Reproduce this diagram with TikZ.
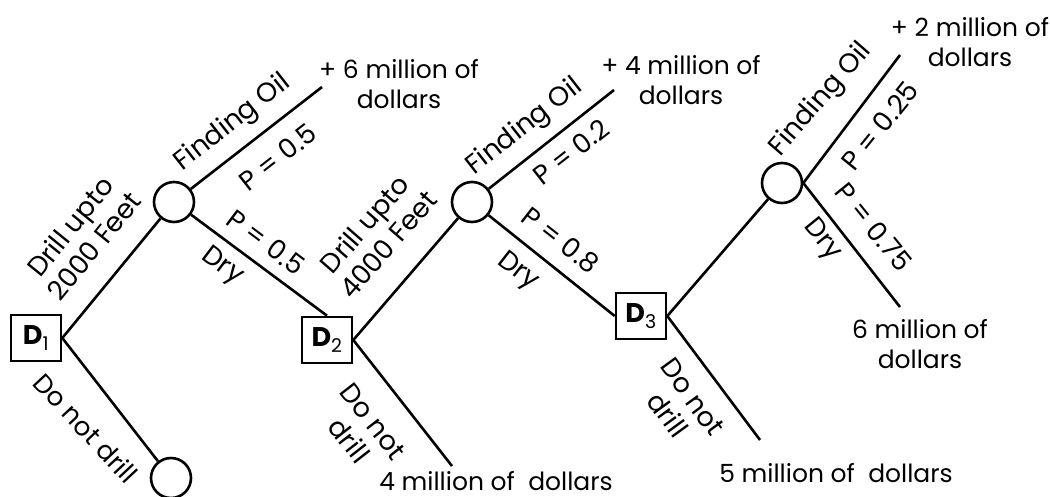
\documentclass[tikz,border=0pt]{standalone}
\usepackage{fontspec}
\setmainfont{Poppins}
\begin{document}
\begin{tikzpicture}[x=1pt,y=-1pt,
  every node/.style={font=\fontsize{25}{30}\selectfont},
  chance/.style={draw,circle,line width=2.6pt,minimum size=40pt,inner sep=0pt},
  decision/.style={draw,rectangle,line width=2.6pt,minimum width=50pt,minimum height=46pt,inner sep=0pt,font=\fontsize{27}{30}\selectfont},
  branch/.style={line width=2.6pt},
  lbl/.style={inner sep=0pt,align=center,font=\fontsize{27}{31}\selectfont},
  outcome/.style={inner sep=0pt,align=center}]
\useasboundingbox (0,0) rectangle (1050,496);
% decision and chance nodes
\node[decision] (d1) at (36,338) {\textbf{D}\textsubscript{1}};
\node[chance] (c1) at (174,202) {};
\node[chance] (c0) at (171,478) {};
\node[decision] (d2) at (327,340) {\textbf{D}\textsubscript{2}};
\node[chance] (c2) at (472,202) {};
\node[decision] (d3) at (641,316) {\textbf{D}\textsubscript{3}};
\node[chance] (c3) at (782,183) {};
% free ends
\coordinate (e1) at (322,87);
\coordinate (e2) at (614,90);
\coordinate (e3) at (452,466);
\coordinate (e4) at (900,55);
\coordinate (e5) at (900,307);
\coordinate (e6) at (760,440);
% connectors
\draw[branch] (d1.east) -- (c1);
\draw[branch] (d1.east) -- (c0);
\draw[branch] (c1) -- (e1);
\draw[branch] (c1) -- (d2.north);
\draw[branch] (d2.east) -- (c2);
\draw[branch] (d2.east) -- (e3);
\draw[branch] (c2) -- (e2);
\draw[branch] (c2) -- (d3.west);
\draw[branch] (d3.east) -- (c3);
\draw[branch] (d3.east) -- (e6);
\draw[branch] (c3.east) -- (e4);
\draw[branch] (c3.east) -- (e5);
% outcomes
\node[outcome] (o1) at (399,84) {+ 6 million of\\dollars};
\node[outcome] (o2) at (681,80) {+ 4 million of\\dollars};
\node[outcome] (o3) at (970,42) {+ 2 million of\\dollars};
\node[outcome] (o4) at (920,344) {6 million of\\dollars};
\node[outcome,anchor=base] (o5) at (496,490) {4 million of~ dollars};
\node[outcome,anchor=base] (o6) at (836,482) {5 million of~ dollars};
% branch labels
\node[lbl,rotate=51] (l1) at (82,236) {Drill upto\\2000 Feet};
\node[lbl,rotate=-47,font=\fontsize{26}{30}\selectfont] (l2) at (86,428) {Do not drill};
\node[lbl,rotate=38] (l3) at (233,123) {Finding Oil};
\node[lbl,rotate=38] (l4) at (278,157) {P = 0.5};
\node[lbl,rotate=-37] (l5) at (266,242) {P = 0.5};
\node[lbl,rotate=-37] (l6) at (222,267) {Dry};
\node[lbl,rotate=49] (l7) at (376,234) {Drill upto\\4000 Feet};
\node[lbl,rotate=-52] (l8) at (361,431) {Do not\\drill};
\node[lbl,rotate=38] (l9) at (525,127) {Finding Oil};
\node[lbl,rotate=38] (l10) at (571,152) {P = 0.2};
\node[lbl,rotate=-38] (l11) at (561,240) {P = 0.8};
\node[lbl,rotate=-38] (l12) at (518,272) {Dry};
\node[lbl,rotate=-54] (l13) at (680,406) {Do not\\drill};
\node[lbl,rotate=49] (l14) at (821,100) {Finding Oil};
\node[lbl,rotate=51] (l15) at (880,126) {P = 0.25};
\node[lbl,rotate=-51] (l16) at (874,227) {P = 0.75};
\node[lbl,rotate=-51] (l17) at (822,240) {Dry};
\end{tikzpicture}
\end{document}
